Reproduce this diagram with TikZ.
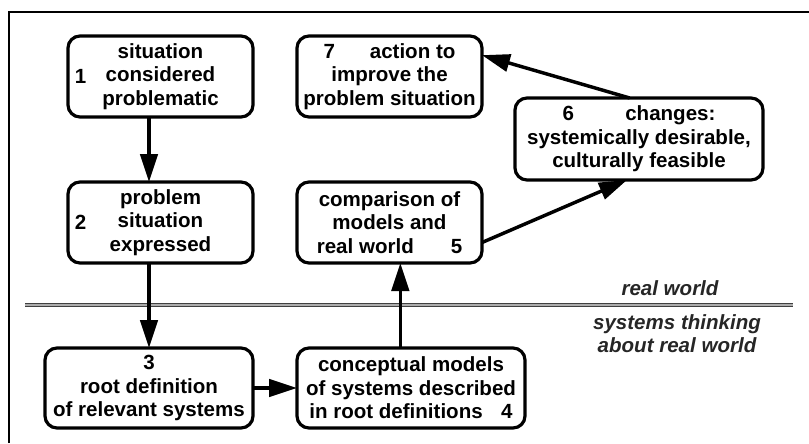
\documentclass[tikz,border=0pt]{standalone}
\usepackage{fontspec}
\setmainfont{Liberation Sans}
\usepackage{tikz}
\usetikzlibrary{positioning,arrows.meta}
\newcommand{\stagefont}{\fontsize{15.4}{17.6}\selectfont\bfseries}

\begin{document}
\begin{tikzpicture}[x=0.75pt,y=-0.75pt,
	stage/.style={draw,
		rounded corners=9pt,
		line width=2.4pt,
		outer sep=0pt,
		inner sep=3pt,
		minimum width=138.75pt,
		minimum height=60.75pt,
		align=center,
		font=\stagefont},
	num/.style={inner sep=0pt, anchor=west, font=\stagefont},
	flow/.style={line width=2.6pt, -{Triangle[length=21pt,width=13pt]}},
	world/.style={font=\stagefont\itshape, text=black!85, align=center}
]

\useasboundingbox (0,0) rectangle (809,443);

% Frame
\draw[line width=2.2pt] (9,443) -- (9,12) -- (809,12);

% Stage 1
\node [stage] (situation) at (160.5,76.5) {
situation\\considered\\problematic
};
\node [num] (n1) at ([xshift=5pt] situation.west) {1};

% Stage 7
\node [stage,
	right = 33pt of situation
] (action) {
7\hspace{1.7em}action to\\improve the\\problem situation
};

% Stage 2
\node [stage,
	below = 48.75pt of situation
] (expressed) {
problem\\situation\\expressed
};
\node [num] (n2) at ([xshift=5pt] expressed.west) {2};

% Stage 5
\node [stage,
	right = 33pt of expressed
] (comparison) {
comparison of\\models and\\real world\hspace{1.8em}5
};

% Stage 3
\node [stage,
	anchor=north east,
	minimum width=156pt,
	minimum height=60pt
] (rootdef) at (253,348) {
3\\root definition\\of relevant systems
};

% Stage 4
\node [stage,
	minimum width=171pt,
	minimum height=60pt,
	right = 33pt of rootdef
] (models) {
conceptual models\\of systems described\\in root definitions\hspace{0.9em}4
};

% Stage 6
\node [stage,
	minimum width=186pt,
	minimum height=61.5pt
] (changes) at (639,139) {
6\hspace{2.5em}changes:\\systemically desirable,\\culturally feasible
};

% Divider between the two worlds
\draw[line width=1.1pt, draw=black!75, double=gray!65, double distance=1pt]
	(25,305) coordinate (divleft) -- (793,305) coordinate (divright);
\node [world] (realworld) at (670,288) {real world};
\node [world] (thinking) at (677,333.5) {systems thinking\\about real world};

% Arrows
\draw[flow] (rootdef.north |- situation.south) -- (rootdef.north |- expressed.north);
\draw[flow] (rootdef.north |- expressed.south) -- (rootdef.north);
\draw[flow] (rootdef.east) -- (models.west);
\draw[flow] ([xshift=-8pt] models.north) -- ([xshift=-8pt] models.north |- comparison.south);
\draw[flow] ([yshift=-15pt] comparison.east) -- ([xshift=-9pt] changes.south);
\draw[flow] ([xshift=-7pt] changes.north) -- ([yshift=16pt] action.east);

\end{tikzpicture}
\end{document}
